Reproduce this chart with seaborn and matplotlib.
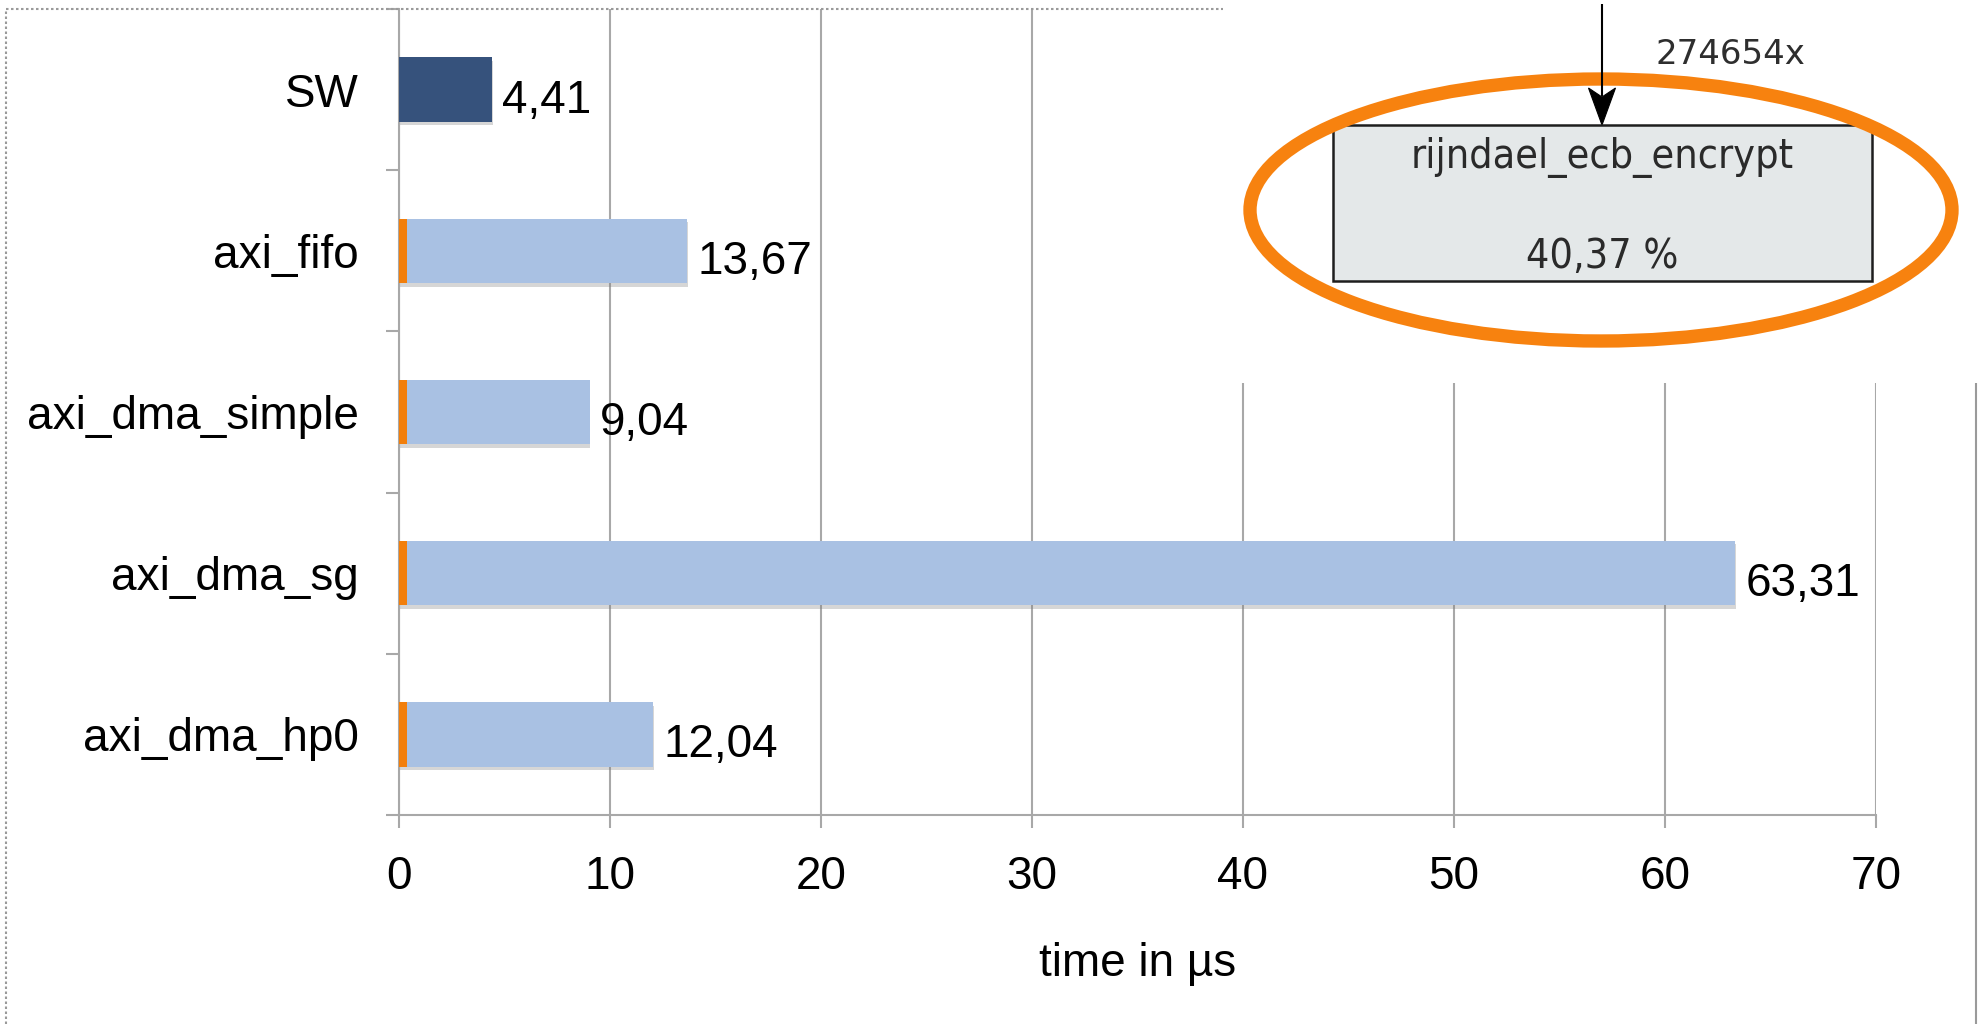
import matplotlib
matplotlib.use("Agg")
import matplotlib.pyplot as plt
import matplotlib.patheffects as pe
from matplotlib import font_manager
from matplotlib.patches import Ellipse, Rectangle, Polygon
from matplotlib.lines import Line2D
import numpy as np
import pandas as pd
import seaborn as sns

# ---------------- data ----------------
categories = ["SW", "axi_fifo", "axi_dma_simple", "axi_dma_sg", "axi_dma_hp0"]
total_time = [4.41, 13.67, 9.04, 63.31, 12.04]
transfer_overhead = [0.0, 0.4, 0.4, 0.4, 0.4]
bar_colors = ["#36527c", "#a9c1e3", "#a9c1e3", "#a9c1e3", "#a9c1e3"]
overhead_color = "#f27f0c"
x_ticks = [0, 10, 20, 30, 40, 50, 60, 70]
x_label = "time in µs"
inset_calls = "274654x"
inset_function = "rijndael_ecb_encrypt"
inset_share = "40,37 %"

# ---------------- style ----------------
sns.set_theme(style="white")
plt.rcParams["font.family"] = ["Liberation Sans", "DejaVu Sans"]
GRID = "#a8a8a8"
FS = 33

# condensed face for the call-graph snippet, if one is installed
has_condensed = any(f.name == "DejaVu Sans" and f.stretch == "condensed"
                    for f in font_manager.fontManager.ttflist)
if has_condensed:
    box_font = dict(family="DejaVu Sans", stretch="condensed", fontsize=29.5)
else:
    box_font = dict(family="DejaVu Sans", fontsize=27)

W, H = 1978, 1024
fig = plt.figure(figsize=(W / 100, H / 100), dpi=100)
fig.patch.set_facecolor("white")
ax = fig.add_axes([399 / W, 1 - 815 / H, (1876 - 399) / W, (815 - 9) / H])

df = pd.DataFrame({"category": categories, "total": total_time,
                   "overhead": transfer_overhead})

sns.barplot(data=df, x="total", y="category", hue="category",
            palette=bar_colors, width=0.4, legend=False, saturation=1,
            errorbar=None, ax=ax, zorder=3)
shadow = [pe.SimplePatchShadow(offset=(0.5, -2.5), shadow_rgbFace="#7a7a7a",
                               alpha=0.3), pe.Normal()]
for p in ax.patches:
    p.set_path_effects(shadow)
    p.set_edgecolor("none")

n_before = len(ax.patches)
sns.barplot(data=df, x="overhead", y="category", color=overhead_color,
            width=0.4, saturation=1, errorbar=None, ax=ax, zorder=4)
for p in ax.patches[n_before:]:
    p.set_edgecolor("none")

# value labels
for i, v in enumerate(total_time):
    ax.annotate(f"{v:.2f}".replace(".", ","), xy=(v, i), xytext=(7.5, -16.5),
                textcoords="offset points", ha="left", va="baseline",
                fontsize=FS, color="black", zorder=6)

ax.set_xlim(0, 70)
ax.set_ylim(4.5, -0.5)
ax.set_xticks(x_ticks)
ax.set_xticklabels([str(t) for t in x_ticks])
ax.set_yticks(range(len(categories)))
ax.set_yticklabels(categories)
ax.set_yticks(np.arange(-0.5, len(categories), 1.0), minor=True)
ax.set_axisbelow(True)
ax.xaxis.grid(True, color=GRID, lw=1.5)
ax.yaxis.grid(False)
for s in ["top", "right"]:
    ax.spines[s].set_visible(False)
for s in ["left", "bottom"]:
    ax.spines[s].set_color(GRID)
    ax.spines[s].set_linewidth(1.5)
ax.tick_params(axis="x", which="major", bottom=True, direction="out",
               length=9.5, width=1.5, color=GRID, pad=19,
               labelsize=FS, labelcolor="black")
ax.tick_params(axis="y", which="major", left=True, length=0, pad=29,
               labelsize=FS, labelcolor="black")
ax.tick_params(axis="y", which="minor", left=True, direction="out",
               length=9.5, width=1.5, color=GRID)
ax.set_ylabel("")
ax.set_xlabel(x_label, fontsize=FS, color="black", labelpad=31)

# ---------------- frame around the slide picture ----------------
frame_kw = dict(transform=fig.transFigure, color="#9a9a9a", lw=1.5)
fig.add_artist(Line2D([6 / W, 1223 / W], [1 - 9 / H, 1 - 9 / H],
                      linestyle=(0, (1.2, 1.2)), **frame_kw))
fig.add_artist(Line2D([6 / W, 6 / W], [0, 1 - 9 / H],
                      linestyle=(0, (1.2, 1.2)), **frame_kw))
fig.add_artist(Line2D([1976 / W, 1976 / W], [0, 1 - 383 / H], **frame_kw))

# ---------------- inset call-graph snippet ----------------
ax2 = fig.add_axes([1223 / W, 1 - 383 / H, (W - 1223) / W, 383 / H])
ax2.set_zorder(5)
ax2.set_facecolor("white")
ax2.set_xlim(1223, W)
ax2.set_ylim(383, 0)
ax2.set_xticks([])
ax2.set_yticks([])
for s in ax2.spines.values():
    s.set_visible(False)

ax2.plot([1602, 1602], [4, 96], color="black", lw=1.5, solid_capstyle="butt")
ax2.add_patch(Polygon([(1602, 125), (1588.5, 88), (1602, 97), (1615.5, 88)],
                      closed=True, facecolor="black", edgecolor="black", lw=0.8))
ax2.add_patch(Rectangle((1333, 125), 539, 156, facecolor="#e4e8e9",
                        edgecolor="#1e1e1e", lw=1.8))
ax2.text(1730, 55, inset_calls, ha="center", va="center", fontsize=24.5,
         color="#2e2e2e", family="DejaVu Sans")
ax2.text(1602, 157, inset_function, ha="center", va="center",
         color="#2a2a2a", **box_font)
ax2.text(1602, 257, inset_share, ha="center", va="center",
         color="#2a2a2a", **box_font)
ax2.add_patch(Ellipse((1601, 210), 702, 262, fill=False,
                      edgecolor="#f7820f", lw=9.6))

fig.savefig("out.png", dpi=100, facecolor="white")
